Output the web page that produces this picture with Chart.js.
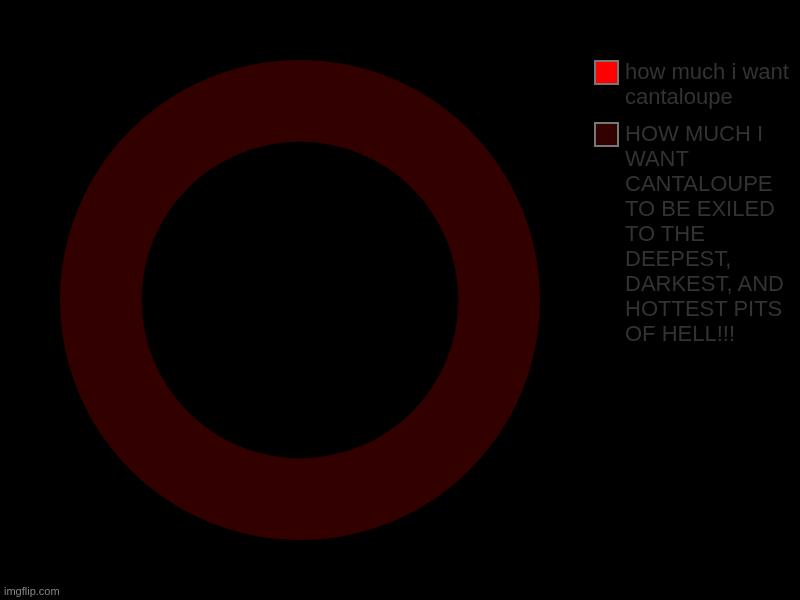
<!DOCTYPE html>
<html>
<head>
<meta charset="utf-8">
<script src="https://cdn.jsdelivr.net/npm/chart.js@4"></script>
<style>
  html, body { margin: 0; padding: 0; background: #000; }
  #wrap { position: relative; width: 800px; height: 600px; background: #000; overflow: hidden; }
  #chart { position: absolute; left: 0; top: 0; }
  #legend { position: absolute; left: 594px; top: 59px; font-family: "Liberation Sans", Arial, sans-serif; font-size: 22px; line-height: 25px; color: #333; }
  .item { position: relative; padding-left: 31px; margin-bottom: 12px; }
  .box { position: absolute; left: 0; top: 1px; width: 21px; height: 21px; border: 2px solid #777; }
  #mark { position: absolute; left: 4px; bottom: 3px; font-family: "Liberation Sans", Arial, sans-serif; font-size: 11px; color: #888; }
</style>
</head>
<body>
<div id="wrap">
  <canvas id="chart" width="800" height="600"></canvas>
  <div id="legend"></div>
  <div id="mark">imgflip.com</div>
</div>
<script>
const labels = [
  'how much i want cantaloupe',
  'HOW MUCH I WANT CANTALOUPE TO BE EXILED TO THE DEEPEST, DARKEST, AND HOTTEST PITS OF HELL!!!'
];
// wrapped lines as they appear in the legend
const legendLines = [
  ['how much i want', 'cantaloupe'],
  ['HOW MUCH I', 'WANT', 'CANTALOUPE', 'TO BE EXILED', 'TO THE', 'DEEPEST,', 'DARKEST, AND', 'HOTTEST PITS', 'OF HELL!!!']
];
const values = [0, 100];
const colors = ['#ff0000', '#330000'];

const chart = new Chart(document.getElementById('chart'), {
  type: 'doughnut',
  data: {
    labels,
    datasets: [{
      data: values,
      backgroundColor: colors,
      borderWidth: 0
    }]
  },
  options: {
    responsive: false,
    animation: false,
    cutout: '66%',
    layout: { padding: { left: 60, right: 260, top: 60, bottom: 60 } },
    plugins: {
      legend: { display: false },
      tooltip: { enabled: false }
    }
  }
});

// HTML legend built from the chart's own labels/colors
const legend = document.getElementById('legend');
legend.innerHTML = chart.data.labels.map((l, i) => `<div class="item" title="${l}">
    <span class="box" style="background:${colors[i]}"></span>
    ${legendLines[i].join('<br>')}
  </div>`).join('');
</script>
</body>
</html>
